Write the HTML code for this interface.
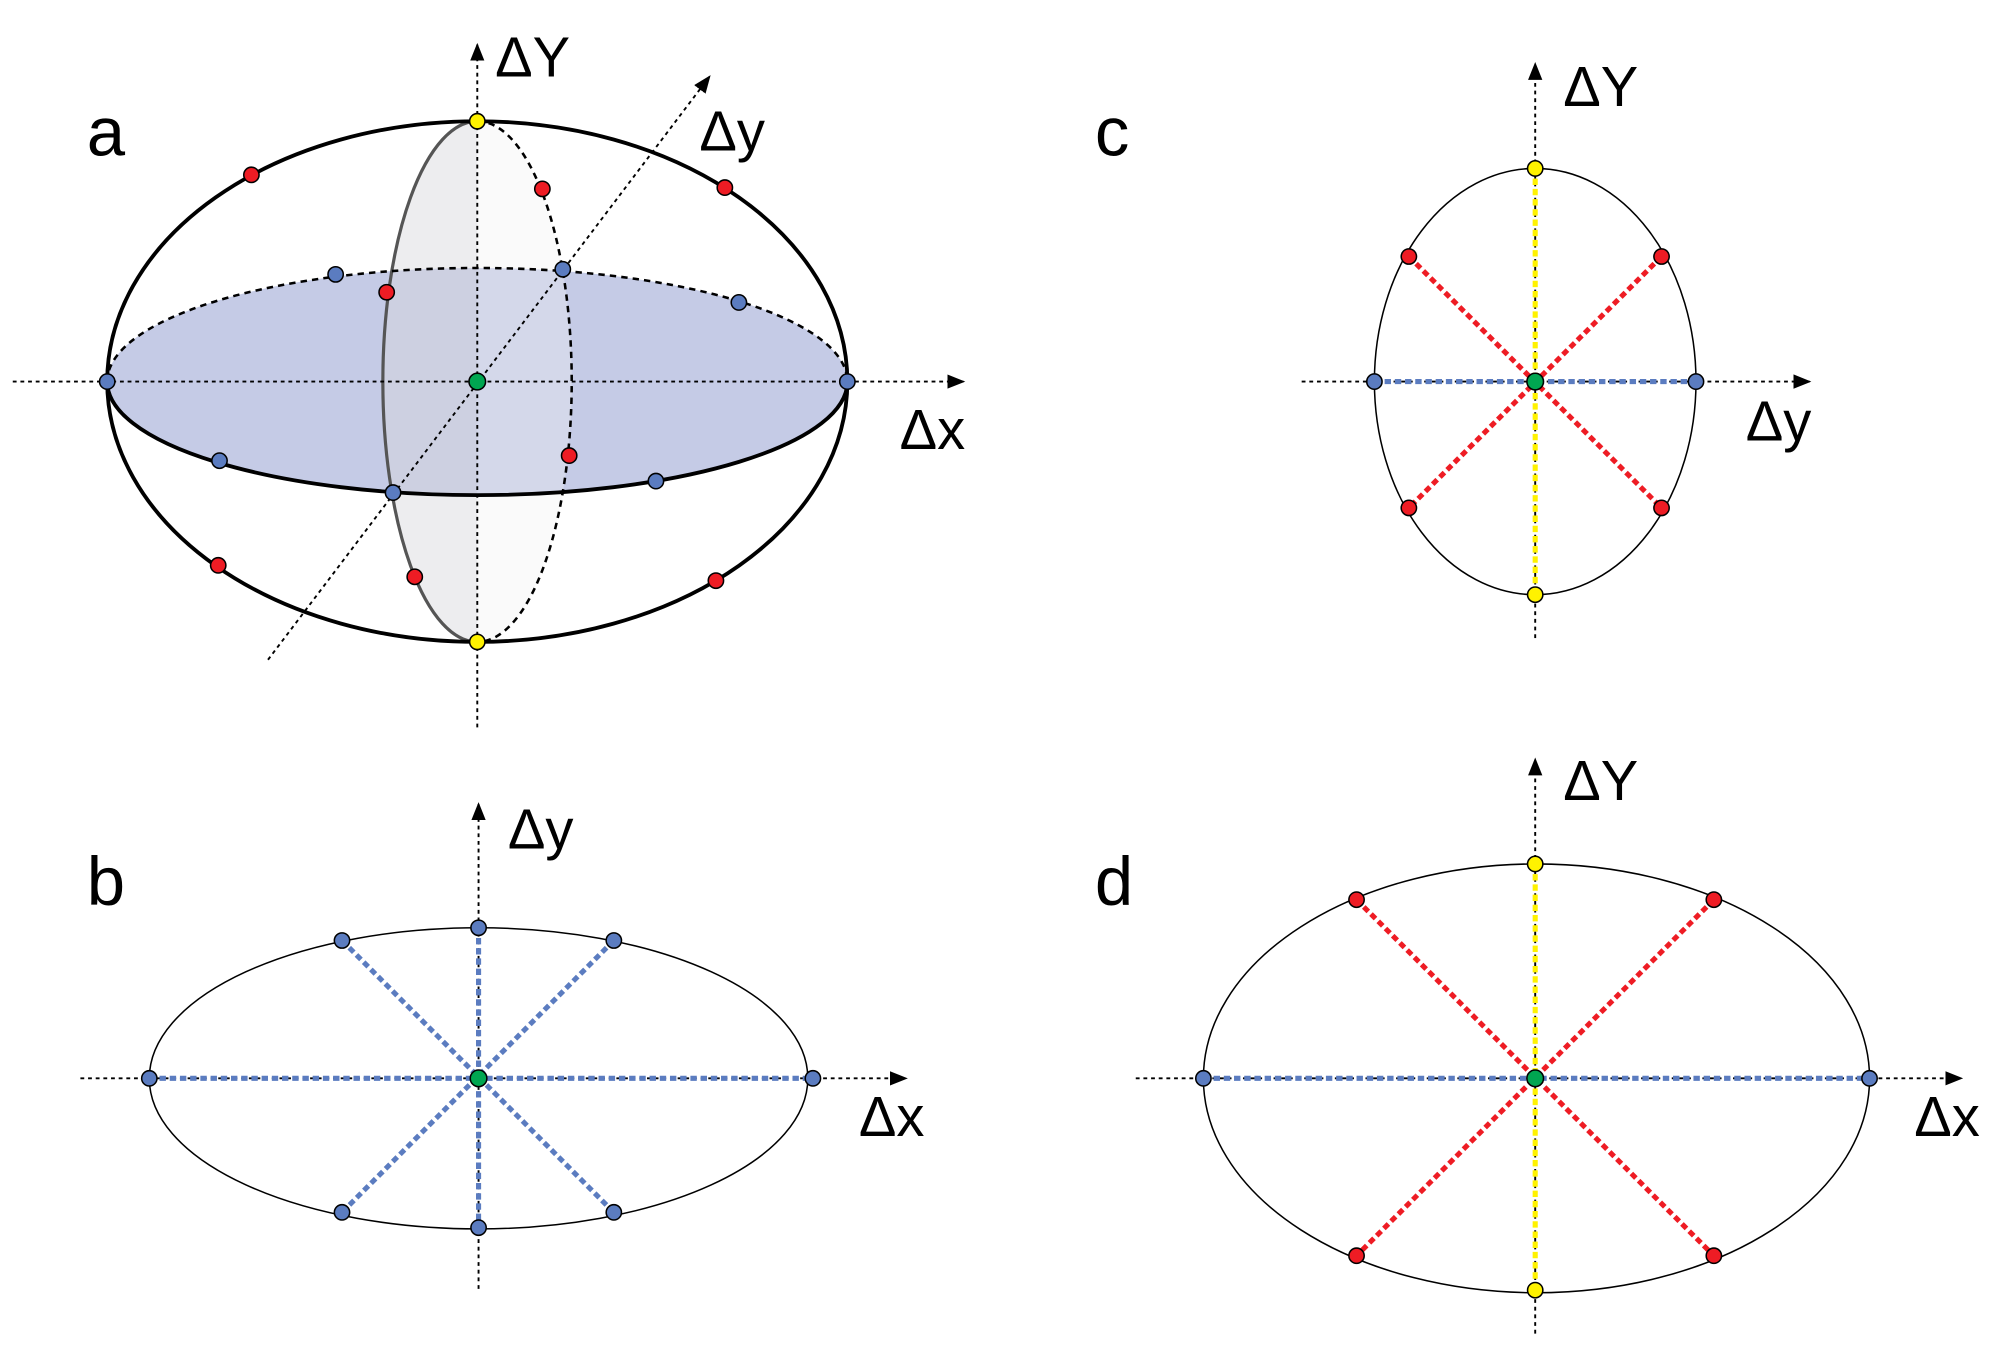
<!DOCTYPE html>
<html><head><meta charset="utf-8"><style>html,body{margin:0;padding:0;background:#fff}svg{display:block}</style></head>
<body>
<svg width="2001" height="1361" viewBox="0 0 1568 1066.5" xmlns="http://www.w3.org/2000/svg" font-family="Liberation Sans, sans-serif">
<defs>
<marker id="ar" viewBox="0 0 10 10" refX="9" refY="5" markerWidth="14" markerHeight="14" markerUnits="userSpaceOnUse" orient="auto"><path d="M0,1 L10,5 L0,9 z" fill="#000"/></marker>
</defs>
<g fill="#000" font-size="54">
<text x="68" y="122">a</text><text x="68" y="709">b</text><text x="858" y="122">c</text><text x="858" y="709">d</text>
<text x="388" y="60" font-size="44">ΔY</text>
<text x="705" y="352" font-size="44">Δx</text>
<text x="548" y="118" font-size="44">Δy</text>
<text x="398" y="665" font-size="44">Δy</text>
<text x="673" y="890" font-size="44">Δx</text>
<text x="1225" y="83" font-size="44">ΔY</text>
<text x="1368" y="345" font-size="44">Δy</text>
<text x="1225" y="627" font-size="44">ΔY</text>
<text x="1500" y="890" font-size="44">Δx</text>
</g>
<!-- Panel a -->
<ellipse cx="374" cy="299" rx="290" ry="89" fill="#c5cbe6"/>
<path d="M374,95 A74,204 0 0 0 374,503 Z" fill="#d8d8dc" opacity="0.45"/>
<path d="M374,95 A74,204 0 0 1 374,503 Z" fill="#f0f0f0" opacity="0.35"/>
<path d="M374,95 A74,204 0 0 1 374,503" fill="none" stroke="#000" stroke-width="2" stroke-dasharray="5,4"/>
<path d="M374,95 A74,204 0 0 0 374,503" fill="none" stroke="#555" stroke-width="2.5"/>
<path d="M84,299 A290,89 0 0 1 664,299" fill="none" stroke="#000" stroke-width="2" stroke-dasharray="5,4"/>
<path d="M84,299 A290,89 0 0 0 664,299" fill="none" stroke="#000" stroke-width="3"/>
<ellipse cx="374" cy="299" rx="290" ry="204" fill="none" stroke="#000" stroke-width="3"/>
<g stroke="#000" stroke-width="1.5" stroke-dasharray="3,3" fill="none">
<line x1="10" y1="299" x2="755" y2="299" marker-end="url(#ar)"/>
<line x1="374" y1="570" x2="374" y2="35" marker-end="url(#ar)"/>
<line x1="210" y1="517" x2="556" y2="60" marker-end="url(#ar)"/>
</g>
<g stroke="#000" stroke-width="1.2">
<g fill="#ee1c24"><circle cx="197" cy="137" r="6"/><circle cx="568" cy="147" r="6"/><circle cx="171" cy="443" r="6"/><circle cx="561" cy="455" r="6"/><circle cx="303" cy="229" r="6"/><circle cx="425" cy="148" r="6"/><circle cx="446" cy="357" r="6"/><circle cx="325" cy="452" r="6"/></g>
<g fill="#5b7cc0"><circle cx="84" cy="299" r="6"/><circle cx="664" cy="299" r="6"/><circle cx="263" cy="215" r="6"/><circle cx="579" cy="237" r="6"/><circle cx="172" cy="361" r="6"/><circle cx="514" cy="377" r="6"/><circle cx="308" cy="386" r="6"/><circle cx="441" cy="211" r="6"/></g>
<g fill="#fff200"><circle cx="374" cy="95" r="6"/><circle cx="374" cy="503" r="6"/></g>
<circle cx="374" cy="299" r="6.5" fill="#00a651"/>
</g>
<!-- Panel b -->
<ellipse cx="375" cy="845" rx="258" ry="118" fill="none" stroke="#000" stroke-width="1.2"/>
<g stroke="#000" stroke-width="1.5" stroke-dasharray="3,3" fill="none">
<line x1="63" y1="845" x2="710" y2="845" marker-end="url(#ar)"/>
<line x1="375" y1="1010" x2="375" y2="630" marker-end="url(#ar)"/>
</g>
<g stroke="#5b7cc0" stroke-width="4" stroke-dasharray="5,3">
<line x1="117" y1="845" x2="637" y2="845"/><line x1="375" y1="727" x2="375" y2="962"/>
<line x1="268" y1="737" x2="481" y2="950"/><line x1="481" y1="737" x2="268" y2="950"/>
</g>
<g stroke="#000" stroke-width="1.2" fill="#5b7cc0">
<circle cx="117" cy="845" r="6"/><circle cx="637" cy="845" r="6"/><circle cx="375" cy="727" r="6"/><circle cx="375" cy="962" r="6"/><circle cx="268" cy="737" r="6"/><circle cx="481" cy="737" r="6"/><circle cx="268" cy="950" r="6"/><circle cx="481" cy="950" r="6"/>
<circle cx="375" cy="845" r="6.5" fill="#00a651"/>
</g>
<!-- Panel c -->
<ellipse cx="1203" cy="299" rx="126" ry="167" fill="none" stroke="#000" stroke-width="1.2"/>
<g stroke="#000" stroke-width="1.5" stroke-dasharray="3,3" fill="none">
<line x1="1020" y1="299" x2="1418" y2="299" marker-end="url(#ar)"/>
<line x1="1203" y1="500" x2="1203" y2="50" marker-end="url(#ar)"/>
</g>
<g stroke-width="4" stroke-dasharray="5,3">
<line x1="1104" y1="201" x2="1302" y2="398" stroke="#ee1c24"/><line x1="1302" y1="201" x2="1104" y2="398" stroke="#ee1c24"/>
<line x1="1077" y1="299" x2="1329" y2="299" stroke="#5b7cc0"/>
<line x1="1203" y1="132" x2="1203" y2="466" stroke="#fff200"/>
</g>
<g stroke="#000" stroke-width="1.2">
<g fill="#ee1c24"><circle cx="1104" cy="201" r="6"/><circle cx="1302" cy="201" r="6"/><circle cx="1104" cy="398" r="6"/><circle cx="1302" cy="398" r="6"/></g>
<g fill="#5b7cc0"><circle cx="1077" cy="299" r="6"/><circle cx="1329" cy="299" r="6"/></g>
<g fill="#fff200"><circle cx="1203" cy="132" r="6"/><circle cx="1203" cy="466" r="6"/></g>
<circle cx="1203" cy="299" r="6.5" fill="#00a651"/>
</g>
<!-- Panel d -->
<ellipse cx="1204" cy="845" rx="261" ry="168" fill="none" stroke="#000" stroke-width="1.2"/>
<g stroke="#000" stroke-width="1.5" stroke-dasharray="3,3" fill="none">
<line x1="890" y1="845" x2="1537" y2="845" marker-end="url(#ar)"/>
<line x1="1203" y1="1045" x2="1203" y2="595" marker-end="url(#ar)"/>
</g>
<g stroke-width="4" stroke-dasharray="5,3">
<line x1="1063" y1="705" x2="1343" y2="984" stroke="#ee1c24"/><line x1="1343" y1="705" x2="1063" y2="984" stroke="#ee1c24"/>
<line x1="943" y1="845" x2="1465" y2="845" stroke="#5b7cc0"/>
<line x1="1203" y1="677" x2="1203" y2="1011" stroke="#fff200"/>
</g>
<g stroke="#000" stroke-width="1.2">
<g fill="#ee1c24"><circle cx="1063" cy="705" r="6"/><circle cx="1343" cy="705" r="6"/><circle cx="1063" cy="984" r="6"/><circle cx="1343" cy="984" r="6"/></g>
<g fill="#5b7cc0"><circle cx="943" cy="845" r="6"/><circle cx="1465" cy="845" r="6"/></g>
<g fill="#fff200"><circle cx="1203" cy="677" r="6"/><circle cx="1203" cy="1011" r="6"/></g>
<circle cx="1203" cy="845" r="6.5" fill="#00a651"/>
</g>
</svg>
</body></html>
